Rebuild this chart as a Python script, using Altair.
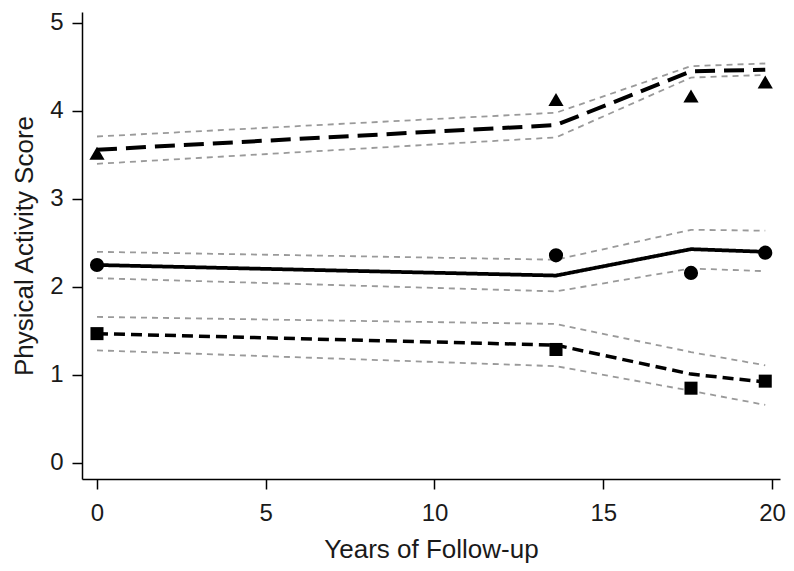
import altair as alt
import pandas as pd

# ---- data ----
years = [0, 13.6, 17.6, 19.8]

obs_top = [3.52, 4.13, 4.17, 4.33]
fit_top = [3.56, 3.84, 4.45, 4.47]
upper_top = [3.71, 3.98, 4.51, 4.54]
lower_top = [3.40, 3.70, 4.38, 4.41]

obs_mid = [2.25, 2.36, 2.16, 2.39]
fit_mid = [2.25, 2.13, 2.43, 2.40]
upper_mid = [2.40, 2.31, 2.65, 2.64]
lower_mid = [2.10, 1.95, 2.21, 2.18]

obs_bot = [1.47, 1.29, 0.85, 0.93]
fit_bot = [1.47, 1.34, 1.01, 0.92]
upper_bot = [1.66, 1.58, 1.26, 1.11]
lower_bot = [1.28, 1.10, 0.82, 0.66]

groups = ["top", "mid", "bot"]
x_ticks = [0, 5, 10, 15, 20]
y_ticks = [0, 1, 2, 3, 4, 5]

obs = {"top": obs_top, "mid": obs_mid, "bot": obs_bot}
fit = {"top": fit_top, "mid": fit_mid, "bot": fit_bot}
upper = {"top": upper_top, "mid": upper_mid, "bot": upper_bot}
lower = {"top": lower_top, "mid": lower_mid, "bot": lower_bot}

rows_obs, rows_fit, rows_ci = [], [], []
for g in groups:
    for i, x in enumerate(years):
        rows_obs.append({"x": x, "y": obs[g][i], "g": g})
        rows_fit.append({"x": x, "y": fit[g][i], "g": g})
        rows_ci.append({"x": x, "y": upper[g][i], "band": g + "_u"})
        rows_ci.append({"x": x, "y": lower[g][i], "band": g + "_l"})

df_obs = pd.DataFrame(rows_obs)
df_fit = pd.DataFrame(rows_fit)
df_ci = pd.DataFrame(rows_ci)

xscale = alt.Scale(domain=[-0.444, 20.237], nice=False, zero=False)
yscale = alt.Scale(domain=[-0.182, 5.125], nice=False, zero=False)

xenc = alt.X("x:Q", scale=xscale,
             axis=alt.Axis(values=x_ticks, title="Years of Follow-up", format="d"))
yenc = alt.Y("y:Q", scale=yscale,
             axis=alt.Axis(values=y_ticks, title="Physical Activity Score", format="d"))

ci = alt.Chart(df_ci).mark_line(color="#9a9a9a", strokeWidth=1.8, strokeDash=[6, 5]).encode(
    x=xenc, y=yenc, detail="band:N"
)

fitl = alt.Chart(df_fit).mark_line(color="black").encode(
    x=xenc, y=yenc,
    strokeDash=alt.StrokeDash("g:N", scale=alt.Scale(domain=groups,
                              range=[[20, 9], [1, 0], [11, 6]]), legend=None),
    strokeWidth=alt.StrokeWidth("g:N", scale=alt.Scale(domain=groups, range=[4, 3.5, 4]),
                                legend=None),
)

pts = alt.Chart(df_obs).mark_point(filled=True, color="black", opacity=1).encode(
    x=xenc, y=yenc,
    shape=alt.Shape("g:N", scale=alt.Scale(domain=groups,
                    range=["triangle-up", "circle", "square"]), legend=None),
    size=alt.Size("g:N", scale=alt.Scale(domain=groups, range=[230, 170, 150]), legend=None),
)

chart = alt.layer(ci, fitl, pts).properties(
    width=698, height=467,
    autosize=alt.AutoSizeParams(type="none"),
    padding={"left": 74, "top": 4, "right": 6, "bottom": 84},
).configure_view(stroke=None).configure_axis(
    grid=False,
    domainColor="black", domainWidth=1.5,
    tickColor="black", tickWidth=1.5, tickSize=10,
    labelFont="Liberation Sans", titleFont="Liberation Sans",
    labelFontSize=24, titleFontSize=26,
    labelColor="#1a1a1a", titleColor="#1a1a1a",
    titleFontWeight="normal",
).configure_axisX(labelPadding=12, titlePadding=11
).configure_axisY(labelPadding=9, titlePadding=12)

chart.save("out.html", embed_options={"renderer": "svg", "actions": False})
